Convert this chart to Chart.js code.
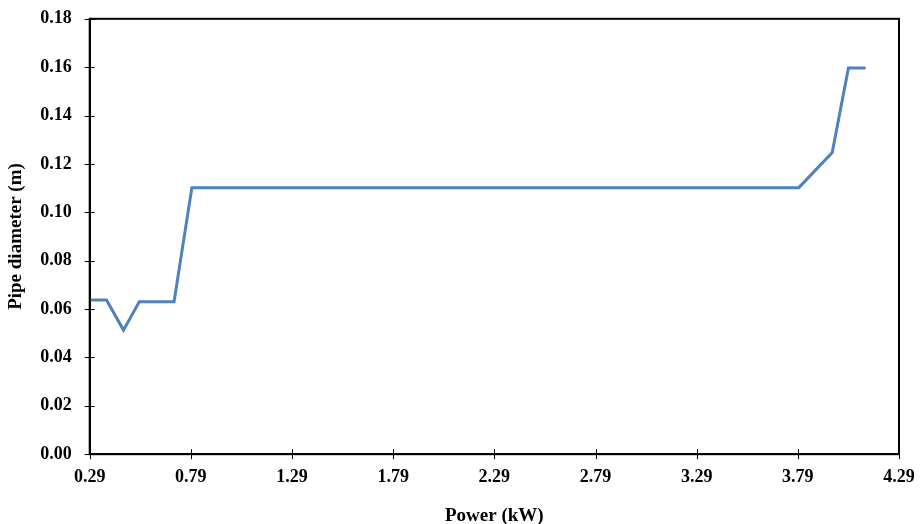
<!DOCTYPE html>
<html>
<head>
<meta charset="utf-8">
<script src="https://cdn.jsdelivr.net/npm/chart.js@4"></script>
<style>
  html, body { margin: 0; padding: 0; background: #fff; }
  #wrap { width: 923px; height: 524px; }
</style>
</head>
<body>
<div id="wrap"><canvas id="pipeChart"></canvas></div>
<script>
// Power (kW) vs pipe diameter (m), corner points
const powerKW = [0.29, 0.373, 0.457, 0.535, 0.707, 0.795, 3.795, 3.96, 4.04, 4.125];
const pipeDiameter = [0.0637, 0.0637, 0.0513, 0.0630, 0.0630, 0.1102, 0.1102, 0.1247, 0.1597, 0.1597];

const xTicks = [0.29, 0.79, 1.29, 1.79, 2.29, 2.79, 3.29, 3.79, 4.29];
const yTicks = [0, 0.02, 0.04, 0.06, 0.08, 0.10, 0.12, 0.14, 0.16, 0.18];

const family = '"Liberation Serif", "Times New Roman", serif';
const tickFont = { family: family, weight: 'bold', size: 18 };
const titleFont = { family: family, weight: 'bold', size: 19, lineHeight: 0.8 };

// tick marks crossing the axes (Excel "cross" ticks) and the plot frame
const crossTicks = {
    id: 'crossTicks',
    afterDraw(chart) {
        const ctx = chart.ctx;
        const xs = chart.scales.x, ys = chart.scales.y;
        const area = chart.chartArea;
        ctx.save();
        ctx.strokeStyle = '#000';
        ctx.lineWidth = 1;
        ctx.beginPath();
        xTicks.forEach(v => {
            const px = Math.round(xs.getPixelForValue(v)) + 0.5;
            ctx.moveTo(px, area.bottom + 5);
            ctx.lineTo(px, area.bottom - 5);
        });
        yTicks.forEach(v => {
            const py = Math.round(ys.getPixelForValue(v)) + 0.5;
            ctx.moveTo(area.left - 5, py);
            ctx.lineTo(area.left + 5, py);
        });
        ctx.stroke();
        ctx.lineWidth = 2;
        ctx.strokeRect(area.left, area.top, area.right - area.left, area.bottom - area.top);
        ctx.restore();
    }
};

const ctx = document.getElementById('pipeChart').getContext('2d');
new Chart(ctx, {
    type: 'line',
    data: {
        datasets: [{
            data: powerKW.map((x, i) => ({ x: x, y: pipeDiameter[i] })),
            borderColor: '#4f81bd',
            borderWidth: 3,
            pointRadius: 0,
            tension: 0,
            fill: false
        }]
    },
    options: {
        responsive: true,
        maintainAspectRatio: false,
        animation: false,
        layout: { padding: { top: 0, right: 24, left: 8, bottom: 0 } },
        plugins: { legend: { display: false }, tooltip: { enabled: false } },
        scales: {
            x: {
                type: 'linear',
                min: 0.29,
                max: 4.29,
                afterBuildTicks: axis => { axis.ticks = xTicks.map(v => ({ value: v })); },
                ticks: { color: '#000', font: tickFont, padding: 7, maxRotation: 0, callback: v => v.toFixed(2) },
                grid: { drawOnChartArea: false, tickLength: 5, tickColor: 'rgba(0,0,0,0)' },
                border: { color: '#000', width: 2 },
                title: { display: true, text: 'Power (kW)', color: '#000', font: titleFont, padding: { top: 14, bottom: 0 } }
            },
            y: {
                min: 0,
                max: 0.18,
                afterBuildTicks: axis => { axis.ticks = yTicks.map(v => ({ value: v })); },
                ticks: { color: '#000', font: tickFont, padding: 8, callback: v => v.toFixed(2) },
                grid: { drawOnChartArea: false, tickLength: 10, tickColor: 'rgba(0,0,0,0)' },
                border: { color: '#000', width: 2 },
                title: { display: true, text: 'Pipe diameter (m)', color: '#000', font: titleFont, padding: { top: 0, bottom: 9 } }
            }
        }
    },
    plugins: [crossTicks]
});
</script>
</body>
</html>
